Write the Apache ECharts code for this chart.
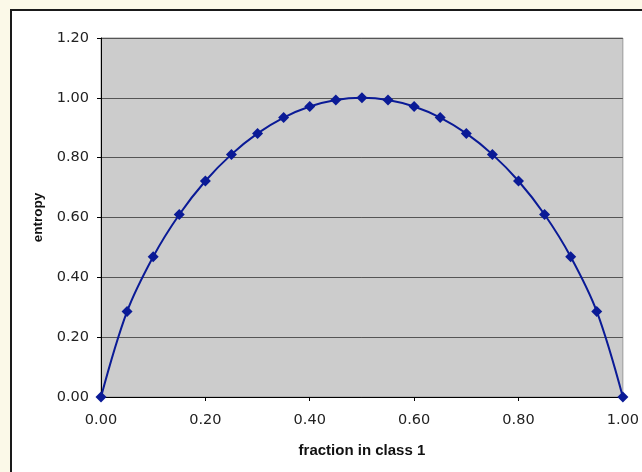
<!DOCTYPE html>
<html><head><meta charset="utf-8">
<script src="https://cdn.jsdelivr.net/npm/echarts@6/dist/echarts.min.js"></script>
<style>html,body{margin:0;padding:0;background:#FBF9E8;}#c{width:642px;height:472px;}</style>
</head><body><div id="c"></div>
<script>
var fractions = [0.00,0.05,0.10,0.15,0.20,0.25,0.30,0.35,0.40,0.45,0.50,0.55,0.60,0.65,0.70,0.75,0.80,0.85,0.90,0.95,1.00];
var entropy = [0.000,0.286,0.469,0.610,0.722,0.811,0.881,0.934,0.971,0.993,1.000,0.993,0.971,0.934,0.881,0.811,0.722,0.610,0.469,0.286,0.000];
var yTicks = [0, 1.2, 0.2];
var xTicks = [0, 1.0, 0.2];
var pts = fractions.map(function(f,i){return [f, entropy[i]];});
var chart = echarts.init(document.getElementById('c'), null, {renderer:'canvas'});
var labelFont = {color:'#222', fontFamily:'DejaVu Sans', fontSize:14.5};
chart.setOption({
  animation:false,
  backgroundColor:'#FBF9E8',
  graphic:[{type:'rect', z:-10, shape:{x:11,y:10,width:640,height:470}, style:{fill:'#ffffff', stroke:'#1a1a1a', lineWidth:2}}],
  grid:{left:101, right:19, top:38, bottom:75, show:true, backgroundColor:'#CCCCCC', borderColor:'#999', borderWidth:1},
  xAxis:{type:'value', min:xTicks[0], max:xTicks[1], interval:xTicks[2],
    name:'fraction in class 1', nameLocation:'middle', nameGap:46,
    nameTextStyle:{fontFamily:'Liberation Sans', fontWeight:'bold', fontSize:15, color:'#111'},
    axisLine:{show:true, lineStyle:{color:'#000', width:1}},
    axisTick:{show:true, length:4, lineStyle:{color:'#000'}},
    axisLabel:Object.assign({margin:16, formatter:function(v){return v.toFixed(2);}}, labelFont),
    splitLine:{show:false}},
  yAxis:{type:'value', min:yTicks[0], max:yTicks[1], interval:yTicks[2],
    name:'entropy', nameLocation:'middle', nameGap:56, nameRotate:90,
    nameTextStyle:{fontFamily:'Liberation Sans', fontWeight:'bold', fontSize:13.5, color:'#111'},
    axisLine:{show:true, lineStyle:{color:'#000', width:1}},
    axisTick:{show:true, length:4, lineStyle:{color:'#000'}},
    axisLabel:Object.assign({margin:12, formatter:function(v){return v.toFixed(2);}}, labelFont),
    splitLine:{show:true, lineStyle:{color:'#555', width:1}}},
  series:[{type:'line', data:pts, smooth:0.35, symbol:'diamond', symbolSize:[11,11],
    lineStyle:{color:'#0A1A96', width:2}, itemStyle:{color:'#0A1A96'}, clip:false}]
});
</script></body></html>
